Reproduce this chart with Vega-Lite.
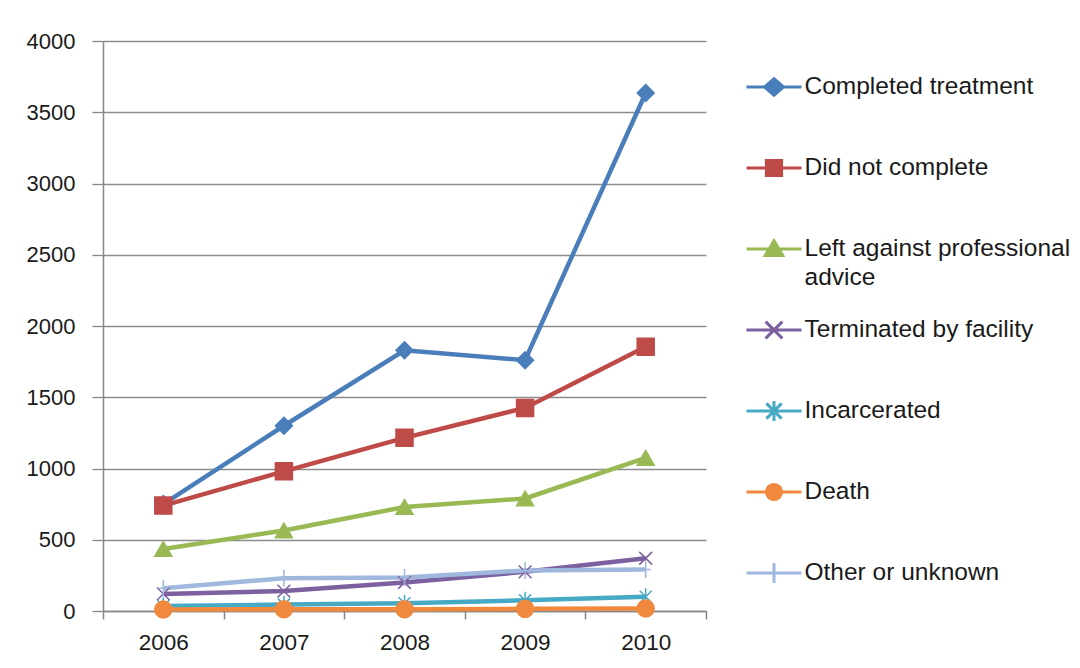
{
  "$schema": "https://vega.github.io/schema/vega-lite/v6.json",
  "width": 603,
  "height": 570,
  "autosize": "none",
  "padding": {"left": 103, "top": 41, "right": 374, "bottom": 57},
  "background": "white",
  "config": {"view": {"stroke": null}, "font": "Liberation Sans"},
  "data": {
    "values": [
      {"year": "2006", "series": "Completed treatment", "value": 750},
      {"year": "2007", "series": "Completed treatment", "value": 1300},
      {"year": "2008", "series": "Completed treatment", "value": 1830},
      {"year": "2009", "series": "Completed treatment", "value": 1760},
      {"year": "2010", "series": "Completed treatment", "value": 3635},
      {"year": "2006", "series": "Did not complete", "value": 740},
      {"year": "2007", "series": "Did not complete", "value": 980},
      {"year": "2008", "series": "Did not complete", "value": 1215},
      {"year": "2009", "series": "Did not complete", "value": 1425},
      {"year": "2010", "series": "Did not complete", "value": 1855},
      {"year": "2006", "series": "Left against professional advice", "value": 435},
      {"year": "2007", "series": "Left against professional advice", "value": 565},
      {"year": "2008", "series": "Left against professional advice", "value": 730},
      {"year": "2009", "series": "Left against professional advice", "value": 790},
      {"year": "2010", "series": "Left against professional advice", "value": 1075},
      {"year": "2006", "series": "Terminated by facility", "value": 120},
      {"year": "2007", "series": "Terminated by facility", "value": 140},
      {"year": "2008", "series": "Terminated by facility", "value": 200},
      {"year": "2009", "series": "Terminated by facility", "value": 275},
      {"year": "2010", "series": "Terminated by facility", "value": 370},
      {"year": "2006", "series": "Incarcerated", "value": 35},
      {"year": "2007", "series": "Incarcerated", "value": 45},
      {"year": "2008", "series": "Incarcerated", "value": 55},
      {"year": "2009", "series": "Incarcerated", "value": 75},
      {"year": "2010", "series": "Incarcerated", "value": 100},
      {"year": "2006", "series": "Death", "value": 10},
      {"year": "2007", "series": "Death", "value": 12},
      {"year": "2008", "series": "Death", "value": 12},
      {"year": "2009", "series": "Death", "value": 15},
      {"year": "2010", "series": "Death", "value": 18},
      {"year": "2006", "series": "Other or unknown", "value": 160},
      {"year": "2007", "series": "Other or unknown", "value": 230},
      {"year": "2008", "series": "Other or unknown", "value": 235},
      {"year": "2009", "series": "Other or unknown", "value": 285},
      {"year": "2010", "series": "Other or unknown", "value": 292}
    ]
  },
  "encoding": {
    "x": {
      "field": "year",
      "type": "ordinal",
      "scale": {"type": "band", "paddingInner": 0, "paddingOuter": 0},
      "axis": {
        "title": null,
        "tickBand": "extent",
        "labelAngle": 0,
        "grid": false,
        "domainColor": "#868686",
        "domainWidth": 1.5,
        "tickColor": "#868686",
        "tickWidth": 1.5,
        "tickSize": 8,
        "labelPadding": 12,
        "labelFontSize": 22.5,
        "labelColor": "#1a1a1a"
      }
    },
    "y": {
      "field": "value",
      "type": "quantitative",
      "scale": {"domain": [0, 4000], "nice": false},
      "axis": {
        "title": null,
        "values": [0, 500, 1000, 1500, 2000, 2500, 3000, 3500, 4000],
        "format": "d",
        "grid": true,
        "gridColor": "#8c8c8c",
        "gridWidth": 1.3,
        "domainColor": "#868686",
        "domainWidth": 1.5,
        "tickColor": "#868686",
        "tickWidth": 1.3,
        "tickSize": 11,
        "labelPadding": 17,
        "labelFontSize": 22,
        "labelColor": "#1a1a1a"
      }
    },
    "color": {
      "field": "series",
      "type": "nominal",
      "scale": {
        "domain": ["Completed treatment", "Did not complete", "Left against professional advice", "Terminated by facility", "Incarcerated", "Death", "Other or unknown"],
        "range": ["#4A7EBB", "#BE4B48", "#98B954", "#7D60A0", "#46AAC5", "#F0893E", "#A0B8DE"]
      },
      "legend": {
        "title": null,
        "orient": "none",
        "legendX": 631.5,
        "legendY": 6.5,
        "padding": 0,
        "symbolSize": 5776,
        "symbolStrokeWidth": 3,
        "labelFontSize": 24.5,
        "labelColor": "#1a1a1a",
        "labelLimit": 320,
        "labelOffset": -9,
        "rowPadding": 1,
        "gridAlign": "all",
        "labelExpr": "datum.value == 'Left against professional advice' ? ['Left against professional', 'advice'] : datum.label",
        "encode": {
          "symbols": {
            "update": {
              "shape": {"signal": "datum.value == 'Completed treatment' ? 'M-0.724,0L0.724,0M0,-0.22L0.25,0L0,0.22L-0.25,0Z' : datum.value == 'Did not complete' ? 'M-0.724,0L0.724,0M-0.2,-0.2L0.2,-0.2L0.2,0.2L-0.2,0.2Z' : datum.value == 'Left against professional advice' ? 'M-0.724,0L0.724,0M0,-0.22L0.23,0.17L-0.23,0.17Z' : datum.value == 'Terminated by facility' ? 'M-0.724,0L0.724,0M-0.22,-0.22L0.22,0.22M0.22,-0.22L-0.22,0.22' : datum.value == 'Incarcerated' ? 'M-0.724,0L0.724,0M-0.2,-0.2L0.2,0.2M0.2,-0.2L-0.2,0.2M0,-0.26L0,0.26' : datum.value == 'Death' ? 'M-0.724,0L0.724,0M-0.2,0A0.2,0.2,0,1,0,0.2,0A0.2,0.2,0,1,0,-0.2,0Z' : 'M-0.724,0L0.724,0M0,-0.26L0,0.26'"},
              "fill": {"scale": "color", "field": "value"},
              "stroke": {"scale": "color", "field": "value"},
              "strokeWidth": {"value": 3},
              "opacity": {"value": 1}
            }
          },
          "labels": {
            "update": {
              "lineHeight": {"value": 29}
            }
          }
        }
      }
    }
  },
  "layer": [
    {"mark": {"type": "line", "strokeWidth": 4.5}},
    {
      "mark": {
        "type": "point",
        "filled": true,
        "opacity": 1,
        "size": 289,
        "strokeWidth": 1.5,
        "stroke": {"expr": "scale('color', datum.series)"},
        "shape": {"expr": "datum.series == 'Completed treatment' ? 'diamond' : datum.series == 'Did not complete' ? 'square' : datum.series == 'Left against professional advice' ? 'triangle-up' : datum.series == 'Terminated by facility' ? 'M-0.75,-0.75L0.75,0.75M0.75,-0.75L-0.75,0.75' : datum.series == 'Incarcerated' ? 'M-0.7,-0.7L0.7,0.7M0.7,-0.7L-0.7,0.7M0,-1L0,1' : datum.series == 'Death' ? 'circle' : 'M-0.6,0L0.6,0M0,-1L0,1'"}
      }
    }
  ]
}
